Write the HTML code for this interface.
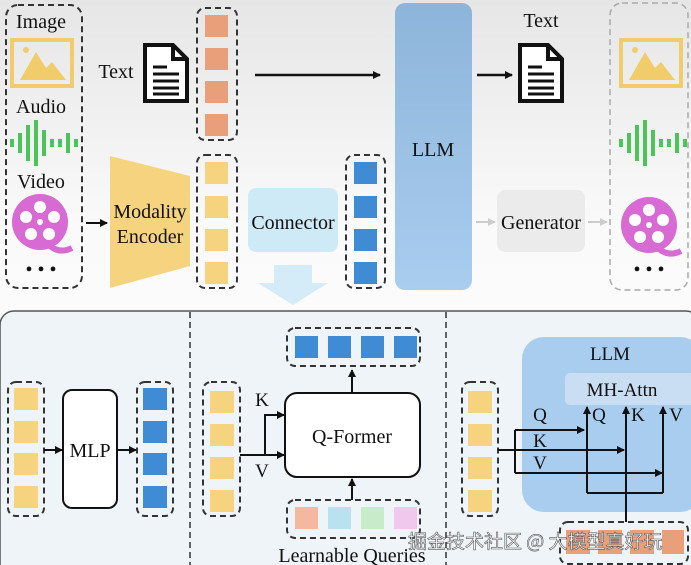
<!DOCTYPE html>
<html><head><meta charset="utf-8"><style>body{margin:0}svg{display:block}text{font-family:"Liberation Serif",serif;fill:#111}</style></head><body>
<svg width="691" height="565" viewBox="0 0 691 565" xmlns="http://www.w3.org/2000/svg">
<defs>
<linearGradient id="bg" x1="0" y1="0" x2="0" y2="1"><stop offset="0" stop-color="#e6e6e6"/><stop offset="0.4" stop-color="#fafafa"/><stop offset="1" stop-color="#fff"/></linearGradient>
<linearGradient id="llm" x1="0" y1="0" x2="0" y2="1"><stop offset="0" stop-color="#8db4da"/><stop offset="1" stop-color="#a9cdef"/></linearGradient>
<marker id="ar" markerWidth="8" markerHeight="8" refX="7" refY="4" orient="auto" markerUnits="userSpaceOnUse"><path d="M0,0 L8,4 L0,8z" fill="#111"/></marker>
<marker id="arg" markerWidth="8" markerHeight="8" refX="7" refY="4" orient="auto" markerUnits="userSpaceOnUse"><path d="M0,0 L8,4 L0,8z" fill="#ccc"/></marker>
<g id="img"><rect x="0" y="0" width="60" height="46" fill="none" stroke="#f1cc6b" stroke-width="4"/><path d="M8,40 L24,12 L34,28 L40,22 L54,40z" fill="#f1cc6b"/><circle cx="14" cy="10" r="3" fill="#f1cc6b"/></g>
<g id="wave" stroke="#4cc45a" stroke-width="4"><line x1="2" y1="19" x2="2" y2="27"/><line x1="10" y1="13" x2="10" y2="33"/><line x1="18" y1="5" x2="18" y2="41"/><line x1="26" y1="0" x2="26" y2="46"/><line x1="34" y1="10" x2="34" y2="36"/><line x1="42" y1="19" x2="42" y2="27"/><line x1="50" y1="19" x2="50" y2="27"/><line x1="58" y1="13" x2="58" y2="33"/><line x1="66" y1="19" x2="66" y2="27"/></g>
<g id="reel"><circle cx="0" cy="0" r="28" fill="#d76ad3"/><path d="M10,24 Q20,32 32,26" stroke="#d76ad3" stroke-width="6" fill="none"/><g fill="#fff"><circle cx="0" cy="-15" r="6"/><circle cx="14" cy="-5" r="6"/><circle cx="9" cy="12" r="6"/><circle cx="-9" cy="12" r="6"/><circle cx="-14" cy="-5" r="6"/><circle cx="0" cy="0" r="3"/></g></g>
<g id="doc"><path d="M2,2 L30,2 L44,16 L44,58 L2,58z" fill="#fff" stroke="#111" stroke-width="4"/><path d="M30,2 L30,16 L44,16" fill="none" stroke="#111" stroke-width="4"/><g stroke="#111" stroke-width="3"><line x1="10" y1="24" x2="24" y2="24"/><line x1="10" y1="31" x2="36" y2="31"/><line x1="10" y1="38" x2="36" y2="38"/><line x1="10" y1="45" x2="36" y2="45"/><line x1="10" y1="51" x2="36" y2="51"/></g></g>
</defs>
<rect width="691" height="565" fill="url(#bg)"/>
<rect x="6" y="5" width="76" height="283" rx="12" fill="none" stroke="#333" stroke-width="2" stroke-dasharray="6,4"/>
<text x="41" y="28" font-size="20" text-anchor="middle">Image</text>
<use href="#img" x="12" y="40"/>
<text x="41" y="113" font-size="20" text-anchor="middle">Audio</text>
<use href="#wave" x="10" y="120"/>
<text x="41" y="188" font-size="20" text-anchor="middle">Video</text>
<use href="#reel" x="40" y="222"/>
<text x="41" y="276" font-size="20" text-anchor="middle">• • •</text>
<line x1="86" y1="223" x2="107" y2="223" stroke="#111" stroke-width="2" marker-end="url(#ar)"/>
<path d="M110,156 L190,176 L190,266 L110,288z" fill="#f6d47f"/>
<text x="150" y="218" font-size="20" text-anchor="middle">Modality</text>
<text x="150" y="243" font-size="20" text-anchor="middle">Encoder</text>
<text x="116" y="78" font-size="20" text-anchor="middle">Text</text>
<use href="#doc" x="143" y="43"/>
<rect x="197" y="8" width="40" height="132" rx="8" fill="none" stroke="#333" stroke-width="2" stroke-dasharray="6,4"/>
<g fill="#e9a07a"><rect x="205" y="15" width="23" height="22"/><rect x="205" y="48" width="23" height="22"/><rect x="205" y="81" width="23" height="22"/><rect x="205" y="114" width="23" height="22"/></g>
<rect x="197" y="155" width="40" height="133" rx="8" fill="none" stroke="#333" stroke-width="2" stroke-dasharray="6,4"/>
<g fill="#f6d47f"><rect x="205" y="162" width="23" height="22"/><rect x="205" y="196" width="23" height="22"/><rect x="205" y="229" width="23" height="22"/><rect x="205" y="262" width="23" height="22"/></g>
<rect x="248" y="188" width="90" height="64" rx="8" fill="#cfeaf7"/>
<text x="293" y="229" font-size="20" text-anchor="middle">Connector</text>
<path d="M274,265 L312,265 L312,283 L328,283 L293,305 L258,283 L274,283z" fill="#d4ecf8"/>
<rect x="346" y="155" width="39" height="133" rx="8" fill="none" stroke="#333" stroke-width="2" stroke-dasharray="6,4"/>
<g fill="#3f8bd4"><rect x="354" y="162" width="23" height="22"/><rect x="354" y="196" width="23" height="22"/><rect x="354" y="229" width="23" height="22"/><rect x="354" y="262" width="23" height="22"/></g>
<line x1="255" y1="75" x2="380" y2="75" stroke="#111" stroke-width="2.5" marker-end="url(#ar)"/>
<rect x="395" y="3" width="77" height="287" rx="10" fill="url(#llm)"/>
<text x="433" y="156" font-size="20" text-anchor="middle">LLM</text>
<line x1="477" y1="75" x2="512" y2="75" stroke="#111" stroke-width="2.5" marker-end="url(#ar)"/>
<text x="541" y="27" font-size="20" text-anchor="middle">Text</text>
<use href="#doc" x="518" y="43"/>
<line x1="476" y1="222" x2="495" y2="222" stroke="#ccc" stroke-width="2" marker-end="url(#arg)"/>
<rect x="497" y="190" width="88" height="62" rx="8" fill="#ebebeb"/>
<text x="541" y="229" font-size="20" text-anchor="middle">Generator</text>
<line x1="588" y1="222" x2="607" y2="222" stroke="#ccc" stroke-width="2" marker-end="url(#arg)"/>
<rect x="610" y="3" width="78" height="287" rx="12" fill="none" stroke="#aaa" stroke-width="1.5" stroke-dasharray="6,4"/>
<use href="#img" x="621" y="40"/>
<use href="#wave" x="619" y="120"/>
<use href="#reel" x="649" y="225"/>
<text x="649" y="276" font-size="20" text-anchor="middle">• • •</text>
<rect x="0" y="311" width="700" height="270" rx="14" fill="#eef4f8" stroke="#555" stroke-width="1.5"/>
<line x1="190" y1="312" x2="190" y2="565" stroke="#333" stroke-width="1.5" stroke-dasharray="6,4"/>
<line x1="446" y1="312" x2="446" y2="565" stroke="#333" stroke-width="1.5" stroke-dasharray="6,4"/>
<rect x="8" y="382" width="36" height="134" rx="8" fill="none" stroke="#333" stroke-width="2" stroke-dasharray="6,4"/>
<g fill="#f6d47f"><rect x="14" y="388" width="24" height="22"/><rect x="14" y="421" width="24" height="22"/><rect x="14" y="453" width="24" height="22"/><rect x="14" y="486" width="24" height="22"/></g>
<line x1="44" y1="450" x2="62" y2="450" stroke="#111" stroke-width="2" marker-end="url(#ar)"/>
<rect x="63" y="390" width="54" height="118" rx="9" fill="#fff" stroke="#111" stroke-width="2"/>
<text x="90" y="457" font-size="20" text-anchor="middle">MLP</text>
<line x1="117" y1="450" x2="136" y2="450" stroke="#111" stroke-width="2" marker-end="url(#ar)"/>
<rect x="137" y="382" width="36" height="134" rx="8" fill="none" stroke="#333" stroke-width="2" stroke-dasharray="6,4"/>
<g fill="#3f8bd4"><rect x="143" y="388" width="24" height="22"/><rect x="143" y="421" width="24" height="22"/><rect x="143" y="453" width="24" height="22"/><rect x="143" y="486" width="24" height="22"/></g>
<rect x="203" y="382" width="37" height="134" rx="8" fill="none" stroke="#333" stroke-width="2" stroke-dasharray="6,4"/>
<g fill="#f6d47f"><rect x="210" y="391" width="24" height="22"/><rect x="210" y="424" width="24" height="22"/><rect x="210" y="457" width="24" height="22"/><rect x="210" y="490" width="24" height="22"/></g>
<text x="262" y="406" font-size="19" text-anchor="middle">K</text>
<text x="262" y="477" font-size="19" text-anchor="middle">V</text>
<path d="M240,455 L284,455" stroke="#111" stroke-width="2" fill="none" marker-end="url(#ar)"/>
<path d="M265,455 L265,415 L284,415" stroke="#111" stroke-width="2" fill="none" marker-end="url(#ar)"/>
<rect x="285" y="393" width="135" height="84" rx="12" fill="#fff" stroke="#111" stroke-width="2"/>
<text x="352" y="443" font-size="20" text-anchor="middle">Q-Former</text>
<line x1="352" y1="393" x2="352" y2="370" stroke="#111" stroke-width="2" marker-end="url(#ar)"/>
<rect x="287" y="328" width="133" height="38" rx="8" fill="none" stroke="#333" stroke-width="2" stroke-dasharray="6,4"/>
<g fill="#3f8bd4"><rect x="295" y="336" width="23" height="22"/><rect x="328" y="336" width="23" height="22"/><rect x="361" y="336" width="23" height="22"/><rect x="394" y="336" width="23" height="22"/></g>
<line x1="352" y1="500" x2="352" y2="479" stroke="#111" stroke-width="2" marker-end="url(#ar)"/>
<rect x="287" y="500" width="133" height="38" rx="8" fill="none" stroke="#333" stroke-width="2" stroke-dasharray="6,4"/>
<rect x="295" y="507" width="23" height="22" fill="#f4b8a0"/><rect x="328" y="507" width="23" height="22" fill="#b9e2f0"/><rect x="361" y="507" width="23" height="22" fill="#c8ecc8"/><rect x="394" y="507" width="23" height="22" fill="#f0c8ee"/>
<text x="352" y="562" font-size="20" text-anchor="middle">Learnable Queries</text>
<rect x="462" y="382" width="36" height="134" rx="8" fill="none" stroke="#333" stroke-width="2" stroke-dasharray="6,4"/>
<g fill="#f6d47f"><rect x="468" y="391" width="24" height="22"/><rect x="468" y="424" width="24" height="22"/><rect x="468" y="457" width="24" height="22"/><rect x="468" y="490" width="24" height="22"/></g>
<rect x="522" y="337" width="180" height="175" rx="22" fill="#a9cdef"/>
<text x="610" y="360" font-size="19" text-anchor="middle">LLM</text>
<rect x="565" y="373" width="130" height="32" rx="5" fill="#c9def3"/>
<text x="622" y="396" font-size="19" text-anchor="middle">MH-Attn</text>
<g stroke="#111" stroke-width="2" fill="none">
<path d="M498,450 L515,450"/><path d="M515,430 L515,473"/>
<path d="M515,430 L584,430" marker-end="url(#ar)"/>
<path d="M515,450 L624,450" marker-end="url(#ar)"/>
<path d="M515,473 L662,473" marker-end="url(#ar)"/>
<path d="M587,493 L587,407" marker-end="url(#ar)"/>
<path d="M663,493 L663,407" marker-end="url(#ar)"/>
<path d="M587,493 L663,493"/>
<path d="M626,522 L626,407" marker-end="url(#ar)"/>
</g>
<text x="540" y="421" font-size="19" text-anchor="middle">Q</text>
<text x="540" y="447" font-size="19" text-anchor="middle">K</text>
<text x="540" y="469" font-size="19" text-anchor="middle">V</text>
<text x="599" y="421" font-size="19" text-anchor="middle">Q</text>
<text x="638" y="421" font-size="19" text-anchor="middle">K</text>
<text x="676" y="421" font-size="19" text-anchor="middle">V</text>
<rect x="560" y="522" width="128" height="42" rx="8" fill="none" stroke="#333" stroke-width="2" stroke-dasharray="6,4"/>
<g fill="#e9a07a"><rect x="566" y="530" width="24" height="24"/><rect x="598" y="530" width="24" height="24"/><rect x="630" y="530" width="24" height="24"/><rect x="662" y="530" width="22" height="24"/></g>
<text x="408" y="548" font-size="19" style="font-family:'Noto Sans CJK SC',sans-serif;fill:#fff;stroke:#555;stroke-width:0.6">掘金技术社区 @ 大模型真好玩</text>
</svg>
</body></html>
